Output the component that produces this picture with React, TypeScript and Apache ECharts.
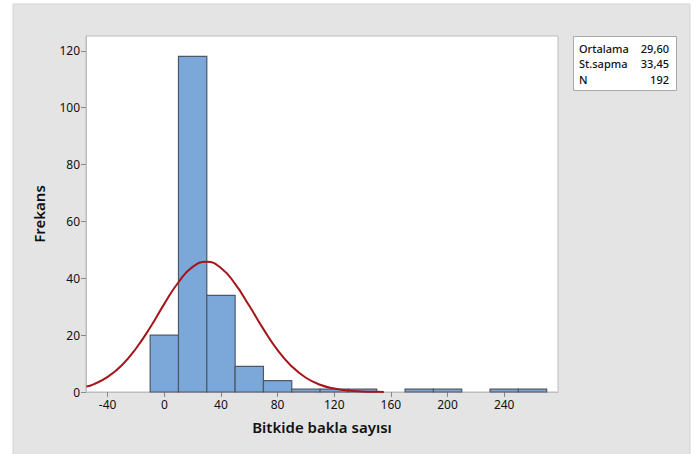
import React, { useEffect, useRef } from "react";
import * as echarts from "echarts";

const binStarts = [-10, 10, 30, 50, 70, 90, 110, 130, 150, 170, 190, 210, 230, 250];
const binWidth = 20;
const binCounts = [20, 118, 34, 9, 4, 1, 1, 1, 0, 1, 1, 0, 1, 1];

const curveX = [-55, -50, -40, -30, -20, -10, 0, 10, 20, 30, 40, 50, 60, 70, 80, 90, 100, 110, 120, 130, 140, 150, 155];
const curveY = [1.9, 2.7, 5.3, 9.4, 15.3, 22.7, 31.0, 38.6, 44.0, 45.8, 43.6, 38.0, 30.3, 22.1, 14.7, 9.0, 5.0, 2.55, 1.2, 0.51, 0.2, 0.07, 0.03];

const xTicks = [-40, 0, 40, 80, 120, 160, 200, 240];
const yTicks = [0, 20, 40, 60, 80, 100, 120];

const statLabels = ["Ortalama", "St.sapma", "N"];
const statValues = ["29,60", "33,45", "192"];

const xTitle = "Bitkide bakla sayısı";
const yTitle = "Frekans";

const FONT = "'Noto Sans', 'Open Sans', sans-serif";

export default function App() {
  const ref = useRef<HTMLDivElement>(null);
  useEffect(() => {
    if (!ref.current) return;
    const chart = echarts.init(ref.current, null, { renderer: "svg" });
    const histData = binStarts
      .map((s, i) => [s, s + binWidth, binCounts[i]])
      .filter((d) => d[2] > 0);
    const statTexts: any[] = [];
    statLabels.forEach((l, i) => {
      statTexts.push({
        type: "text",
        x: 579,
        y: 48 + i * 15.5,
        style: { text: l, fill: "#111", font: `500 11px ${FONT}`, textVerticalAlign: "middle", textAlign: "left" },
      });
      statTexts.push({
        type: "text",
        x: 669,
        y: 48 + i * 15.5,
        style: { text: statValues[i], fill: "#111", font: `500 11px ${FONT}`, textVerticalAlign: "middle", textAlign: "right" },
      });
    });
    chart.setOption({
      animation: false,
      backgroundColor: "#ffffff",
      graphic: [
        {
          type: "rect",
          z: -10,
          silent: true,
          shape: { x: 13, y: 4, width: 677, height: 470 },
          style: { fill: "#e4e4e4", stroke: "#d2d2d2", lineWidth: 1 },
        },
        {
          type: "rect",
          z: 10,
          shape: { x: 573.5, y: 36.5, width: 103, height: 54 },
          style: { fill: "#ffffff", stroke: "#a8a8a8", lineWidth: 1 },
        },
        ...statTexts.map((t) => ({ ...t, z: 11 })),
      ],
      grid: {
        left: 86,
        top: 36,
        width: 472,
        height: 356,
        show: true,
        backgroundColor: "#ffffff",
        borderColor: "#bdbdbd",
        borderWidth: 1,
      },
      xAxis: {
        type: "value",
        min: -55.3,
        max: 278,
        name: xTitle,
        nameLocation: "middle",
        nameGap: 27,
        nameTextStyle: { fontFamily: FONT, fontSize: 15, fontWeight: 600, color: "#111" },
        axisLine: { show: true, onZero: false, lineStyle: { color: "#bdbdbd" } },
        axisTick: { show: true, length: 5, customValues: xTicks, lineStyle: { color: "#888" } },
        axisLabel: { customValues: xTicks, fontFamily: FONT, fontSize: 12, color: "#111", margin: 6 },
        splitLine: { show: false },
      },
      yAxis: {
        type: "value",
        min: 0,
        max: 125.2,
        name: yTitle,
        nameLocation: "middle",
        nameGap: 40,
        nameTextStyle: { fontFamily: FONT, fontSize: 15, fontWeight: 600, color: "#111" },
        axisLine: { show: true, onZero: false, lineStyle: { color: "#bdbdbd" } },
        axisTick: { show: true, length: 5, customValues: yTicks, lineStyle: { color: "#888" } },
        axisLabel: { customValues: yTicks, fontFamily: FONT, fontSize: 12, color: "#111", margin: 6 },
        splitLine: { show: false },
      },
      series: [
        {
          type: "custom",
          z: 2,
          data: histData,
          encode: { x: [0, 1], y: 2 },
          renderItem: (params: any, api: any) => {
            const s = api.value(0);
            const e = api.value(1);
            const c = api.value(2);
            const p0 = api.coord([s, c]);
            const p1 = api.coord([e, 0]);
            return {
              type: "rect",
              shape: { x: p0[0], y: p0[1], width: p1[0] - p0[0], height: p1[1] - p0[1] },
              style: { fill: "#7ca7d9", stroke: "#4d5766", lineWidth: 1.2 },
            };
          },
        },
        {
          type: "line",
          z: 3,
          data: curveX.map((x, i) => [x, curveY[i]]),
          smooth: true,
          showSymbol: false,
          clip: true,
          lineStyle: { color: "#a3151b", width: 2 },
        },
      ],
    });
    return () => chart.dispose();
  }, []);
  return <div ref={ref} style={{ position: "fixed", left: 0, top: 0, width: 699, height: 454 }} />;
}
